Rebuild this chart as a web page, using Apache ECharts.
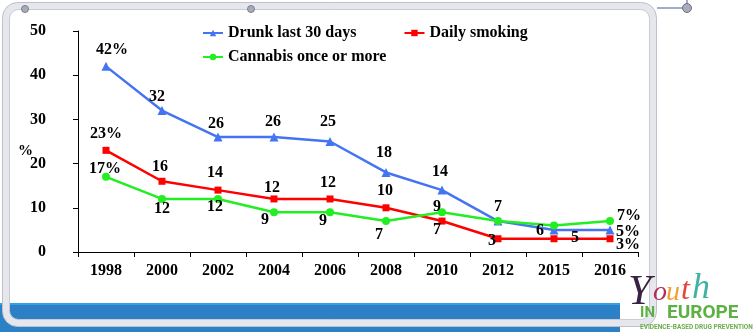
<!DOCTYPE html>
<html>
<head>
<meta charset="utf-8">
<script src="https://cdn.jsdelivr.net/npm/echarts@6/dist/echarts.min.js"></script>
<style>
  html, body { margin: 0; padding: 0; background: #ffffff; }
  #chart { width: 754px; height: 332px; }
</style>
</head>
<body>
<div id="chart"></div>
<script>
// Survey years and the share of young people (%) for each indicator
const years = ['1998', '2000', '2002', '2004', '2006', '2008', '2010', '2012', '2015', '2016'];
const drunk = [42, 32, 26, 26, 25, 18, 14, 7, 5, 5];
const smoking = [23, 16, 14, 12, 12, 10, 7, 3, 3, 3];
const cannabis = [17, 12, 12, 9, 9, 7, 9, 7, 6, 7];
const yTicks = [0, 10, 20, 30, 40, 50];

// Where each value label sits relative to its point (null = no label)
const drunkLabelAt = [[6, -17], [-5, -14], [-2, -13], [-1, -15], [-2, -20], [-2, -20], [-2, -18], [0, -14], [21, 8], [18, 2]];
const smokingLabelAt = [[0, -16], [-2, -14], [-3, -17], [-2, -11], [-2, -16], [-1, -17], [-5, 9], [-6, 2], null, [18, 6]];
const cannabisLabelAt = [[-1, -8], [0, 10], [-3, 8], [-9, 8], [-7, 9], [-7, 14], [-5, -5], null, [-14, 5], [19, -5]];

const SERIF = "'Liberation Serif', 'Times New Roman', serif";
const COLORS = { drunk: '#4474F2', smoking: '#FF0000', cannabis: '#22EE22' };

function points(values, offsets) {
  const last = values.length - 1;
  return values.map((v, i) => {
    const text = (i === 0 || i === last) ? v + '%' : String(v);
    return {
      value: v,
      label: offsets[i] ? { show: true, formatter: text } : { show: false }
    };
  });
}

function lineSeries(name, values, offsets, color, symbol, size) {
  return {
    name: name,
    type: 'line',
    data: points(values, offsets),
    symbol: symbol,
    symbolSize: size,
    color: color,
    lineStyle: { width: 2.5, color: color },
    itemStyle: { color: color },
    label: {
      position: 'inside',
      align: 'center',
      verticalAlign: 'middle',
      color: '#000',
      fontFamily: SERIF,
      fontWeight: 'bold',
      fontSize: 16
    },
    // shift each label from its point by the listed amount
    labelLayout: function (params) {
      const off = offsets[params.dataIndex] || [0, 0];
      return { dx: off[0], dy: off[1], hideOverlap: false };
    },
    emphasis: { disabled: true },
    z: 3
  };
}

const legendText = { fontFamily: SERIF, fontWeight: 'bold', fontSize: 16, color: '#000' };

const chart = echarts.init(document.getElementById('chart'), null, { renderer: 'canvas' });

chart.setOption({
  animation: false,
  backgroundColor: '#ffffff',
  grid: { left: 78, right: 116, top: 31, bottom: 80 },
  legend: [
    {
      data: ['Drunk last 30 days', 'Daily smoking'],
      left: 197, top: 20,
      itemWidth: 20, itemHeight: 8, itemGap: 47,
      textStyle: legendText,
      selectedMode: false
    },
    {
      data: ['Cannabis once or more'],
      left: 197, top: 44,
      itemWidth: 20, itemHeight: 8,
      textStyle: legendText,
      selectedMode: false
    }
  ],
  xAxis: {
    type: 'category',
    data: years,
    boundaryGap: true,
    axisLine: { lineStyle: { color: '#000', width: 1 } },
    axisTick: { show: true, length: 5, lineStyle: { color: '#000' } },
    axisLabel: {
      interval: 0, margin: 11,
      color: '#000', fontFamily: SERIF, fontWeight: 'bold', fontSize: 16
    },
    splitLine: { show: false }
  },
  yAxis: {
    type: 'value',
    min: yTicks[0],
    max: yTicks[yTicks.length - 1],
    interval: yTicks[1] - yTicks[0],
    axisLine: { show: true, lineStyle: { color: '#000', width: 1 } },
    axisTick: { show: true, length: 5, lineStyle: { color: '#000' } },
    axisLabel: {
      margin: 32,
      color: '#000', fontFamily: SERIF, fontWeight: 'bold', fontSize: 16
    },
    splitLine: { show: false }
  },
  series: [
    lineSeries('Drunk last 30 days', drunk, drunkLabelAt, COLORS.drunk, 'triangle', 9),
    lineSeries('Daily smoking', smoking, smokingLabelAt, COLORS.smoking, 'rect', 7),
    lineSeries('Cannabis once or more', cannabis, cannabisLabelAt, COLORS.cannabis, 'circle', 8)
  ],
  graphic: [
    // slide's blue footer band
    { type: 'rect', z: -10, silent: true,
      shape: { x: 0, y: 303, width: 620, height: 29 },
      style: { fill: '#2B80C6' } },
    { type: 'rect', z: -9, silent: true,
      shape: { x: 0, y: 303, width: 620, height: 2 },
      style: { fill: '#33A0E6' } },
    // rounded frame around the chart
    { type: 'rect', z: -5, silent: true,
      shape: { x: 6, y: 6, width: 647, height: 317, r: 12 },
      style: { fill: 'none', stroke: '#E6E7EC', lineWidth: 7 } },
    { type: 'rect', z: -4, silent: true,
      shape: { x: 2.5, y: 2.5, width: 654, height: 324, r: 15 },
      style: { fill: 'none', stroke: '#BEC0CC', lineWidth: 1 } },
    { type: 'rect', z: -4, silent: true,
      shape: { x: 9.5, y: 9.5, width: 640, height: 310, r: 9 },
      style: { fill: 'none', stroke: '#C8CAD4', lineWidth: 1 } },
    // frame handles
    { type: 'circle', z: -3, silent: true,
      shape: { cx: 25, cy: 9, r: 3.5 },
      style: { fill: '#A8ABB8', stroke: '#7C8090', lineWidth: 1 } },
    { type: 'circle', z: -3, silent: true,
      shape: { cx: 251, cy: 9, r: 3.5 },
      style: { fill: '#A8ABB8', stroke: '#7C8090', lineWidth: 1 } },
    { type: 'line', z: -3, silent: true,
      shape: { x1: 657, y1: 8, x2: 683, y2: 8 },
      style: { stroke: '#3D5E96', lineWidth: 1 } },
    { type: 'line', z: -3, silent: true,
      shape: { x1: 687, y1: 0, x2: 687, y2: 4 },
      style: { stroke: '#3D5E96', lineWidth: 1 } },
    { type: 'circle', z: -3, silent: true,
      shape: { cx: 687, cy: 8, r: 4.5 },
      style: { fill: '#A8ABB8', stroke: '#6E7282', lineWidth: 1 } },
    // axis unit
    { type: 'text', left: 18, top: 144, silent: true,
      style: { text: '%', fontFamily: SERIF, fontWeight: 'bold', fontSize: 15, fill: '#000' } },
    // Youth in Europe mark
    { type: 'text', x: 628, y: 272, silent: true,
      style: { text: 'Y', fontFamily: SERIF, fontStyle: 'italic', fontSize: 42, fill: '#3A2242' } },
    { type: 'text', x: 653, y: 279, silent: true,
      style: { text: 'o', fontFamily: SERIF, fontStyle: 'italic', fontSize: 28, fill: '#B0305A' } },
    { type: 'text', x: 666, y: 279, silent: true,
      style: { text: 'u', fontFamily: SERIF, fontStyle: 'italic', fontSize: 28, fill: '#F0A030' } },
    { type: 'text', x: 681, y: 275, silent: true,
      style: { text: 't', fontFamily: SERIF, fontStyle: 'italic', fontSize: 32, fill: '#E5453C' } },
    { type: 'text', x: 692, y: 271, silent: true,
      style: { text: 'h', fontFamily: SERIF, fontStyle: 'italic', fontSize: 36, fill: '#3FB2A2' } },
    { type: 'text', x: 640, y: 306, silent: true,
      style: { text: 'IN', fontFamily: 'Roboto, sans-serif', fontWeight: 'bold', fontSize: 15, fill: '#5DB043' } },
    { type: 'text', x: 667, y: 304, silent: true,
      style: { text: 'EUROPE', fontFamily: 'Roboto, sans-serif', fontWeight: 'bold', fontSize: 19, fill: '#5DB043' } },
    { type: 'text', x: 640, y: 324, silent: true,
      style: { text: 'EVIDENCE-BASED DRUG PREVENTION', fontFamily: 'Roboto, sans-serif', fontWeight: 'bold', fontSize: 6.5, fill: '#6AAE4E' } }
  ]
});
</script>
</body>
</html>
